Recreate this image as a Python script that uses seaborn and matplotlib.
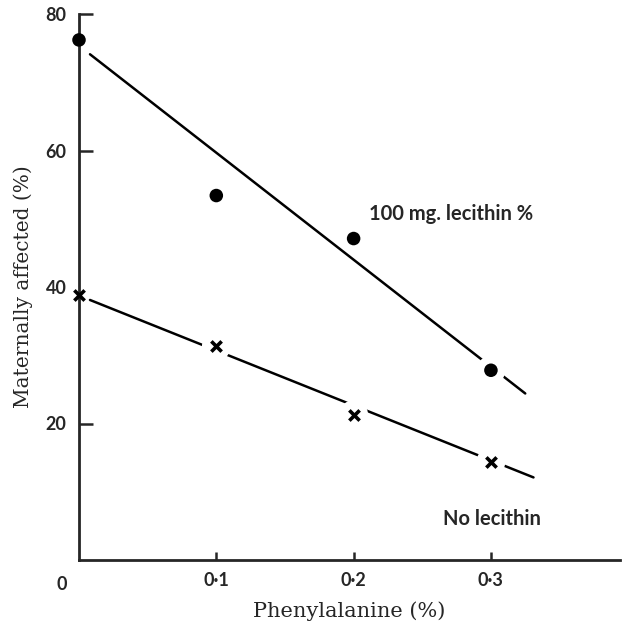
import matplotlib
matplotlib.use("Agg")
import matplotlib.pyplot as plt
import matplotlib.transforms as mtransforms
import seaborn as sns
import pandas as pd

# --- data ---
phe = [0.0, 0.1, 0.2, 0.3]
lecithin_100 = [76.2, 53.4, 47.1, 27.8]
no_lecithin = [38.8, 31.3, 21.3, 14.4]

# fitted lines as drawn (ends of each line)
fit_x = [0.008, 0.325]
fit_lecithin = [74.1, 24.4]
fit_x_no = [0.008, 0.331]
fit_no = [38.1, 12.1]

x_ticks = [0.0, 0.1, 0.2, 0.3]
x_tick_labels = ["0", "0·1", "0·2", "0·3"]
y_ticks = [20, 40, 60, 80]

sns.set_style("ticks")
plt.rcParams["font.family"] = ["Lato", "DejaVu Sans"]

fig = plt.figure(figsize=(6.22, 6.26), dpi=100)
ax = fig.add_axes([79 / 622, 1 - 560 / 626, 541 / 622, 546 / 626])

df_fit = pd.DataFrame({"x": fit_x + fit_x_no,
                       "y": fit_lecithin + fit_no,
                       "grp": ["a", "a", "b", "b"]})
sns.lineplot(data=df_fit, x="x", y="y", units="grp", estimator=None,
             color="black", lw=1.8, ax=ax, zorder=2)

# white masks leave gaps in the lines around the plotted points
mask = pd.DataFrame({"x": phe[1:] + phe[1:],
                     "y": lecithin_100[1:] + no_lecithin[1:]})
sns.scatterplot(data=mask, x="x", y="y", s=430, color="white",
                edgecolor="none", ax=ax, zorder=3)

sns.scatterplot(x=phe, y=lecithin_100, marker="o", s=95, color="black",
                edgecolor="none", ax=ax, zorder=4, clip_on=False)
sns.scatterplot(x=phe, y=no_lecithin, marker="x", s=55, color="black",
                linewidth=2.6, ax=ax, zorder=4, clip_on=False)

ax.set_xlim(0, 0.394)
ax.set_ylim(0, 80)
sns.despine(ax=ax)
for s in ["left", "bottom"]:
    ax.spines[s].set_linewidth(2.0)

ax.set_xticks(x_ticks)
ax.set_xticklabels(x_tick_labels)
ax.set_yticks(y_ticks)
ax.tick_params(axis="x", direction="in", length=6, width=1.8, pad=9,
               labelsize=13)
ax.tick_params(axis="y", direction="in", length=10, width=1.8, pad=9,
               labelsize=13)
for lab in ax.get_xticklabels() + ax.get_yticklabels():
    lab.set_fontweight("bold")
ax.yaxis.get_major_ticks()[1].tick1line.set_visible(False)
ax.xaxis.get_major_ticks()[0].tick1line.set_visible(False)
lab0 = ax.get_xticklabels()[0]
lab0.set_transform(lab0.get_transform() +
                   mtransforms.ScaledTranslation(-17 / 100, -3 / 100, fig.dpi_scale_trans))

ax.set_xlabel("Phenylalanine (%)", family="DejaVu Serif", fontsize=15, labelpad=6)
ax.set_ylabel("Maternally affected (%)", family="DejaVu Serif", fontsize=14.5, labelpad=9)

ax.text(0.211, 50.7, "100 mg. lecithin %", fontsize=14.5, fontweight="bold",
        va="center", ha="left")
ax.text(0.265, 6.0, "No lecithin", fontsize=14.5, fontweight="bold",
        va="center", ha="left")

fig.savefig("out.png", dpi=100)
